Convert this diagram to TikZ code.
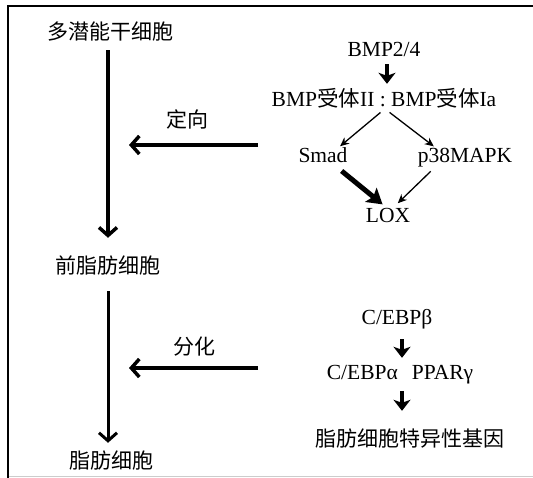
\documentclass[tikz,border=0pt]{standalone}
\usepackage{fontspec}
\setmainfont{Liberation Serif}
\newfontfamily\cjk{Noto Sans CJK SC}
\usetikzlibrary{arrows.meta}
\tikzset{
  lbl/.style={inner sep=0pt, text height=14pt, text depth=4pt, font=\fontsize{21.5}{24}\selectfont},
  cn/.style={inner sep=0pt, text height=14pt, text depth=4pt, font=\fontsize{21}{24}\selectfont\cjk},
  bigarrow/.style={line width=3.5pt, -{Straight Barb[length=8pt,width=18pt]}},
  fatshort/.style={line width=4.5pt, -{Stealth[length=11pt,width=17pt,inset=3pt]}},
  fatdiag/.style={line width=5pt, -{Stealth[length=15pt,width=18pt,inset=3pt]}},
  thin/.style={line width=1.3pt, -{Stealth[length=9pt,width=8pt]}},
  frameline/.style={line width=2pt}
}
\begin{document}
\begin{tikzpicture}[x=1pt,y=-1pt]
\useasboundingbox (0,0) rectangle (533,478);
\fill[white] (0,0) rectangle (533,478);
% frame
\draw[frameline] (533,6) -- (8,6) -- (8,478);
\draw[gray!40, line width=1pt] (9,476.5) -- (533,476.5);

% left chain
\node[cn] (ms) at (110,35) {多潜能干细胞};
\node[cn] (pre) at (108,269) {前脂肪细胞};
\node[cn] (fat) at (111,463) {脂肪细胞};
\draw[bigarrow, shorten <=6pt, shorten >=22pt] (ms.south -| pre) -- (pre.north);
\draw[bigarrow, line width=3pt, shorten <=13pt, shorten >=11pt] (pre.south) -- (fat.north -| pre);

% horizontal arrows
\coordinate (h1s) at (258,145);
\coordinate (h1e) at (129,145);
\coordinate (h2s) at (258,368);
\coordinate (h2e) at (129,368);
\draw[bigarrow] (h1s) -- (h1e);
\draw[bigarrow] (h2s) -- (h2e);
\node[cn] (dx) at (187,123) {定向};
\node[cn] (fh) at (194,350) {分化};

% BMP pathway
\node[lbl] (bmp) at (384,52) {BMP2/4};
\node[lbl] (rec) at (384,102) {BMP{\cjk 受体}II : BMP{\cjk 受体}Ia};
\node[lbl] (smad) at (323,158) {Smad};
\node[lbl] (p38) at (465,158) {p38MAPK};
\node[lbl] (lox) at (388,218) {LOX};
\draw[fatshort, shorten <=3pt, shorten >=9pt] ([xshift=3pt]bmp.south) -- ([xshift=3pt]rec.north);
\draw[thin, shorten <=2pt, shorten >=4pt] ([xshift=-2pt]rec.south) -- ([xshift=14pt]smad.north);
\draw[thin, shorten <=2pt, shorten >=4pt] ([xshift=4pt]rec.south) -- ([xshift=-28pt]p38.north);
\draw[fatdiag, shorten <=6pt, shorten >=7pt] ([xshift=14pt]smad.south) -- (lox.north);
\draw[thin, shorten <=6pt, shorten >=8pt] ([xshift=-30pt]p38.south) -- ([xshift=4pt]lox.north);

% C/EBP pathway
\node[lbl] (cebpb) at (397,320) {C/EBPβ};
\node[lbl] (pair) at (400,375) {C/EBPα\hspace{14pt}PPARγ};
\node[cn] (genes) at (410,441) {脂肪细胞特异性基因};
\draw[fatshort, shorten <=10pt, shorten >=8pt] ([xshift=5pt]cebpb.south) -- ([xshift=2pt]pair.north);
\draw[fatshort, shorten <=7pt, shorten >=21pt] ([xshift=2pt]pair.south) -- ([xshift=-8pt]genes.north);
\end{tikzpicture}
\end{document}
